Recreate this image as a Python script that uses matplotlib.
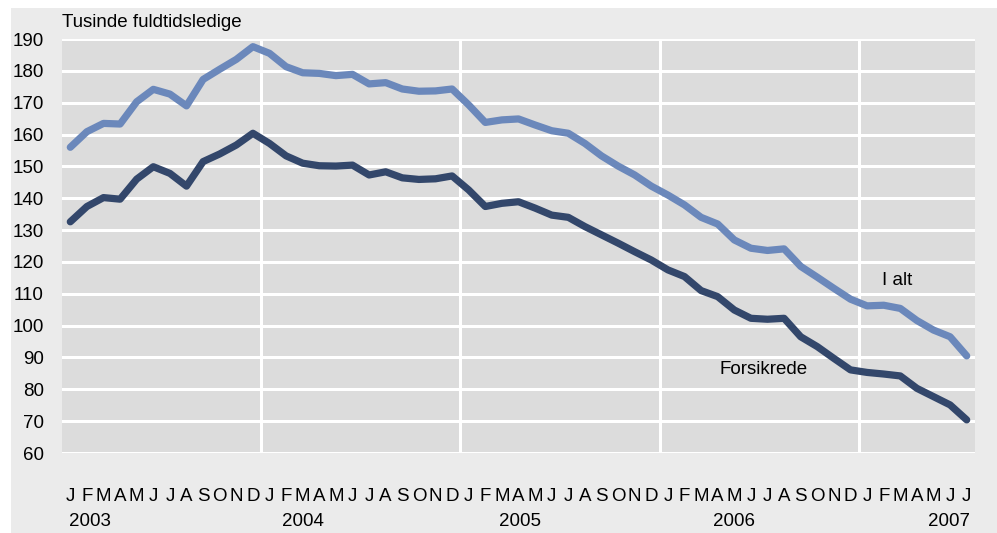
import matplotlib.pyplot as plt
from matplotlib.patches import Rectangle
from matplotlib.transforms import blended_transform_factory

# monthly values, Jan 2003 - Jul 2007 (thousands)
i_alt = [156.0, 160.9, 163.5, 163.3, 170.3, 174.2, 172.7, 169.0, 177.3, 180.5, 183.6, 187.6,
         185.5, 181.3, 179.4, 179.2, 178.5, 178.9, 175.9, 176.3, 174.3, 173.6, 173.7, 174.3,
         169.3, 163.8, 164.6, 164.9, 163.0, 161.2, 160.4, 157.2, 153.3, 150.1, 147.3, 143.8,
         141.0, 137.9, 134.0, 131.9, 126.9, 124.3, 123.6, 124.1, 118.6, 115.2, 111.7, 108.3,
         106.2, 106.4, 105.4, 101.6, 98.6, 96.5, 90.5]
forsikrede = [132.6, 137.4, 140.2, 139.7, 146.0, 149.9, 147.8, 143.8, 151.5, 153.9, 156.7, 160.4,
              157.2, 153.3, 151.0, 150.2, 150.1, 150.4, 147.3, 148.3, 146.4, 145.9, 146.1, 147.0,
              142.6, 137.4, 138.4, 138.9, 136.9, 134.7, 134.0, 131.1, 128.5, 125.9, 123.2, 120.6,
              117.5, 115.4, 111.0, 109.1, 104.9, 102.3, 102.0, 102.3, 96.5, 93.4, 89.7, 86.1,
              85.3, 84.8, 84.2, 80.3, 77.7, 75.1, 70.4]
month_letters = ['J', 'F', 'M', 'A', 'M', 'J', 'J', 'A', 'S', 'O', 'N', 'D']
years = ['2003', '2004', '2005', '2006', '2007']
year_pos = [1.2, 14.0, 27.1, 40.0, 54.2]
year_ha = ['center', 'center', 'center', 'center', 'right']

light = '#6b88bb'
dark = '#33476b'

plt.rcParams['font.family'] = ['Liberation Sans Narrow', 'Liberation Sans', 'DejaVu Sans']

fig = plt.figure(figsize=(9.97, 5.33), dpi=100)
fig.patch.set_facecolor('white')
fig.patches.append(Rectangle((11 / 997, 0), 1 - 11 / 997, 1 - 8 / 533, transform=fig.transFigure,
                             facecolor='#ebebeb', edgecolor='none', zorder=-10))

ax = fig.add_axes([62 / 997, 80 / 533, 913 / 997, 414 / 533])
ax.set_facecolor('#dcdcdc')

x = list(range(len(i_alt)))
ax.plot(x, i_alt, color=light, lw=5.2, solid_capstyle='round', solid_joinstyle='round', zorder=3)
ax.plot(x, forsikrede, color=dark, lw=5.2, solid_capstyle='round', solid_joinstyle='round', zorder=3)

ax.set_xlim(-0.5, len(i_alt) - 0.5)
ax.set_ylim(60, 190)
ax.set_yticks(range(60, 191, 10))
for v in range(60, 191, 10):
    ax.axhline(v, color='white', lw=2.2, zorder=1)
for b in [11.5, 23.5, 35.5, 47.5]:
    ax.axvline(b, color='white', lw=2.2, zorder=1)

labels = [month_letters[i % 12] for i in x]
ax.set_xticks(x)
ax.set_xticklabels(labels, fontsize=13.5)
ax.tick_params(axis='x', length=0, pad=25)
ax.tick_params(axis='y', length=0, pad=13, labelsize=13.5)
for s in ax.spines.values():
    s.set_visible(False)

trans = blended_transform_factory(ax.transData, ax.transAxes)
for yr, p, ha in zip(years, year_pos, year_ha):
    ax.text(p, -0.165, yr, transform=trans, ha=ha, va='center', fontsize=13.5)

ax.text(-0.5, 1.04, 'Tusinde fuldtidsledige', transform=trans, ha='left', va='center', fontsize=13.5)
ax.text(48.9, 114.3, 'I alt', ha='left', va='center', fontsize=13.5)
ax.text(39.1, 86.1, 'Forsikrede', ha='left', va='center', fontsize=13.5)

fig.savefig('out.png', dpi=100)
